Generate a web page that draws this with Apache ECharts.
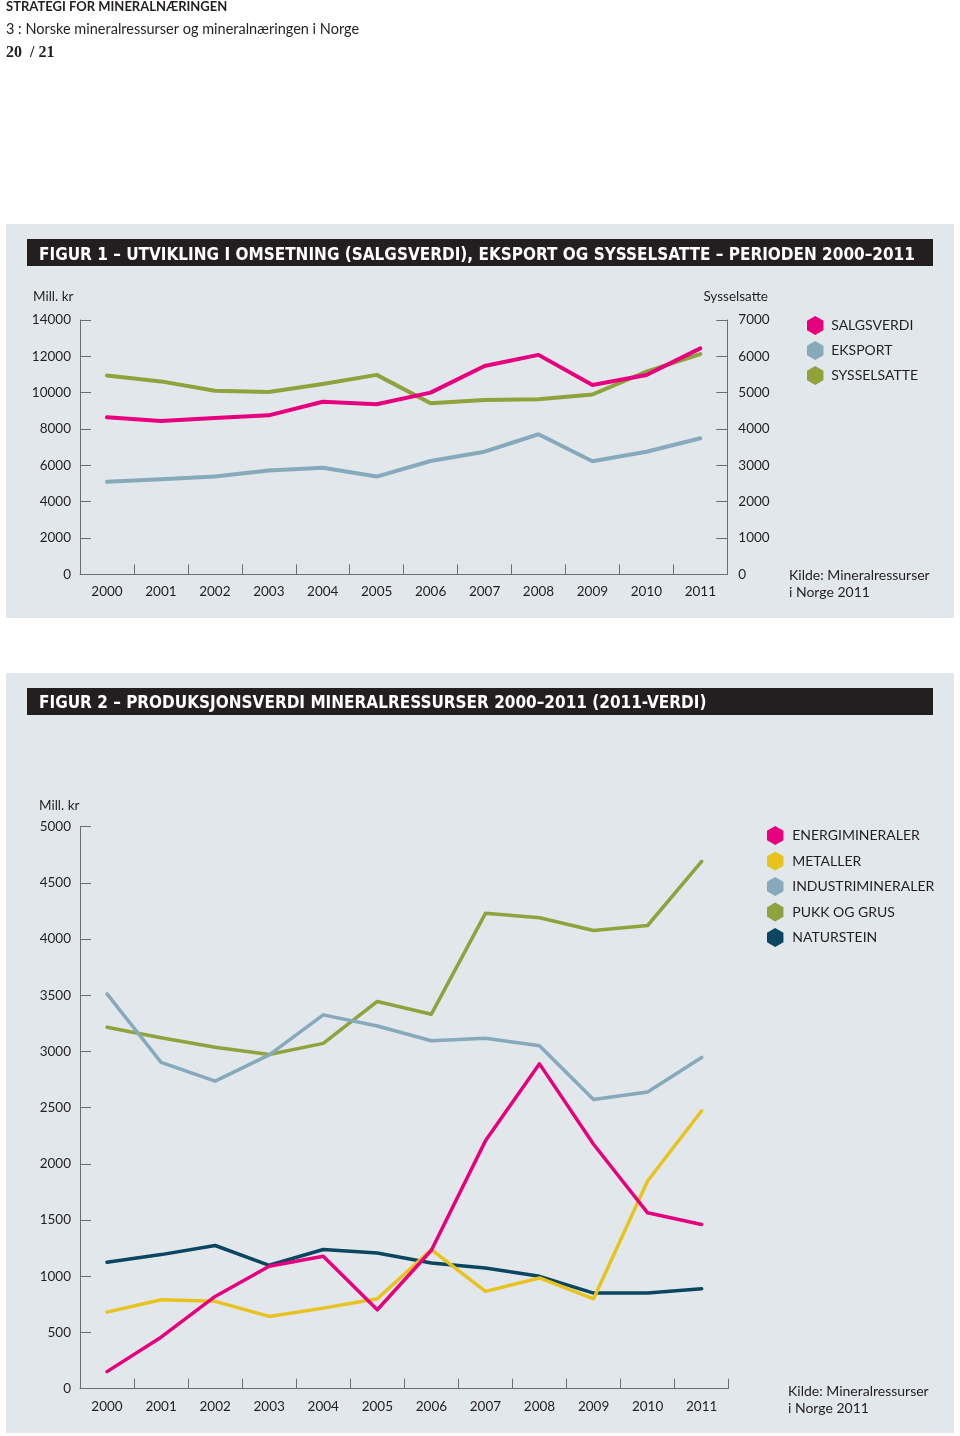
<!DOCTYPE html>
<html>
<head>
<meta charset="utf-8">
<script src="https://cdn.jsdelivr.net/npm/echarts@6/dist/echarts.min.js"></script>
<style>
html,body{margin:0;padding:0;background:#fff;}
#c{width:960px;height:1436px;}
</style>
</head>
<body>
<div id="c"></div>
<script>
// ---------- DATA ----------
const years = ['2000','2001','2002','2003','2004','2005','2006','2007','2008','2009','2010','2011'];

// Figur 1 (Mill. kr, left axis)
const salgsverdi = [8640, 8440, 8600, 8750, 9500, 9360, 10000, 11470, 12080, 10420, 10970, 12440];
const eksport    = [5100, 5230, 5380, 5710, 5870, 5380, 6240, 6750, 7710, 6220, 6750, 7490];
// Figur 1 (Sysselsatte, right axis)
const sysselsatte = [5470, 5310, 5050, 5020, 5240, 5490, 4710, 4800, 4820, 4950, 5580, 6060];

const fig1LeftTicks = {min: 0, max: 14000, interval: 2000};
const fig1RightTicks = {min: 0, max: 7000, interval: 1000};

// Figur 2 (Mill. kr)
const energimineraler   = [152, 458, 821, 1089, 1178, 702, 1232, 2205, 2890, 2175, 1565, 1461];
const metaller          = [681, 792, 777, 643, 717, 800, 1238, 866, 985, 800, 1848, 2473];
const industrimineraler = [3513, 2903, 2736, 2970, 3326, 3227, 3096, 3117, 3052, 2572, 2640, 2947];
const pukkOgGrus        = [3215, 3123, 3037, 2974, 3072, 3445, 3332, 4229, 4190, 4077, 4121, 4691];
const naturstein        = [1125, 1193, 1274, 1098, 1238, 1208, 1119, 1074, 1000, 851, 851, 890];

const fig2Ticks = {min: 0, max: 5000, interval: 500};

// ---------- STYLE ----------
const C = {
  pink: '#e6007e', blue: '#86aabb', green: '#8fa23c', yellow: '#e8c31e', dark: '#0a4660',
  panel: '#e1e7ea', bar: '#231f20', axis: '#6d6e70', text: '#231f20'
};
const FONT = 'Lato, "Open Sans", sans-serif';
const NARROW = '"Liberation Sans Narrow", "DejaVu Sans Condensed", sans-serif';
const HEX = 'path://M50,0 L93.3,25 L93.3,75 L50,100 L6.7,75 L6.7,25 Z';

const chart = echarts.init(document.getElementById('c'), null, {renderer: 'canvas'});

function yAxisBase(gi, t, pos, margin) {
  return {
    type: 'value', gridIndex: gi, position: pos,
    min: t.min, max: t.max, interval: t.interval,
    splitLine: {show: false},
    axisLine: {show: true, lineStyle: {color: C.axis, width: 1}},
    axisTick: {show: true, inside: true, length: 11, lineStyle: {color: C.axis, width: 1}},
    axisLabel: {color: C.text, fontFamily: FONT, fontSize: 13.5, margin: margin,
                formatter: function (v) { return String(v); }}
  };
}
function xAxisBase(gi, margin) {
  return {
    type: 'category', gridIndex: gi, data: years, boundaryGap: true,
    axisLine: {show: true, lineStyle: {color: C.axis, width: 1}},
    axisTick: {show: true, inside: true, length: 10, alignWithLabel: false, lineStyle: {color: C.axis, width: 1}},
    axisLabel: {color: C.text, fontFamily: FONT, fontSize: 13.5, margin: margin},
    splitLine: {show: false}
  };
}
function line(name, data, color, xi, yi, w) {
  return {
    name: name, type: 'line', data: data, xAxisIndex: xi, yAxisIndex: yi,
    symbol: 'none', smooth: false, animation: false,
    lineStyle: {color: color, width: w, cap: 'round', join: 'round'},
    itemStyle: {color: color}
  };
}
function txt(x, y, s, opt) {
  return Object.assign({
    type: 'text', x: x, y: y, z: 10,
    style: Object.assign({text: s, fill: C.text, font: '14px ' + FONT, textVerticalAlign: 'middle'}, opt || {})
  });
}

const option = {
  animation: false,
  backgroundColor: '#ffffff',
  grid: [
    {left: 80, top: 320, width: 647.3, height: 254.3, containLabel: false},
    {left: 80, top: 826.7, width: 648.7, height: 562, containLabel: false}
  ],
  xAxis: [xAxisBase(0, 10), xAxisBase(1, 11)],
  yAxis: [
    yAxisBase(0, fig1LeftTicks, 'left', 9),
    yAxisBase(0, fig1RightTicks, 'right', 11),
    yAxisBase(1, fig2Ticks, 'left', 9)
  ],
  legend: [
    {
      orient: 'vertical', left: 802, top: 311, itemWidth: 18, itemHeight: 19, itemGap: 6,
      icon: HEX, data: ['SALGSVERDI', 'EKSPORT', 'SYSSELSATTE'],
      textStyle: {color: C.text, fontFamily: FONT, fontSize: 14, padding: [0, 0, 0, 2]},
      selectedMode: false
    },
    {
      orient: 'vertical', left: 762, top: 821, itemWidth: 18, itemHeight: 19, itemGap: 6.5,
      icon: HEX, data: ['ENERGIMINERALER', 'METALLER', 'INDUSTRIMINERALER', 'PUKK OG GRUS', 'NATURSTEIN'],
      textStyle: {color: C.text, fontFamily: FONT, fontSize: 14, padding: [0, 0, 0, 3]},
      selectedMode: false
    }
  ],
  series: [
    line('SYSSELSATTE', sysselsatte, C.green, 0, 1, 4),
    line('EKSPORT', eksport, C.blue, 0, 0, 4),
    line('SALGSVERDI', salgsverdi, C.pink, 0, 0, 4),
    line('PUKK OG GRUS', pukkOgGrus, C.green, 1, 2, 3.5),
    line('INDUSTRIMINERALER', industrimineraler, C.blue, 1, 2, 3.5),
    line('NATURSTEIN', naturstein, C.dark, 1, 2, 3.5),
    line('METALLER', metaller, C.yellow, 1, 2, 3.5),
    line('ENERGIMINERALER', energimineraler, C.pink, 1, 2, 3.5)
  ],
  graphic: [
    // panels
    {type: 'rect', z: -10, shape: {x: 6, y: 224, width: 948, height: 394}, style: {fill: C.panel}},
    {type: 'rect', z: -10, shape: {x: 6, y: 673, width: 948, height: 760}, style: {fill: C.panel}},
    // title bars
    {type: 'rect', z: -5, shape: {x: 27, y: 239, width: 906, height: 27}, style: {fill: C.bar}},
    {type: 'rect', z: -5, shape: {x: 27, y: 688, width: 906, height: 27}, style: {fill: C.bar}},
    txt(39, 255.5, 'FIGUR 1 – UTVIKLING I OMSETNING (SALGSVERDI), EKSPORT OG SYSSELSATTE – PERIODEN 2000–2011',
        {fill: '#ffffff', font: 'bold 17px ' + NARROW}),
    txt(39, 704, 'FIGUR 2 – PRODUKSJONSVERDI MINERALRESSURSER 2000–2011 (2011-VERDI)',
        {fill: '#ffffff', font: 'bold 17px ' + NARROW}),
    // header
    txt(6, 7, 'STRATEGI FOR MINERALNÆRINGEN', {font: 'bold 13px ' + FONT}),
    txt(6, 29, '3 : Norske mineralressurser og mineralnæringen i Norge', {font: '14.5px ' + FONT}),
    txt(6, 53, '20  / 21', {font: 'bold 16px "Liberation Serif", serif'}),
    // axis titles
    txt(33, 297, 'Mill. kr', {font: '13.5px ' + FONT}),
    txt(768, 297, 'Sysselsatte', {font: '13.5px ' + FONT, textAlign: 'right'}),
    txt(39, 806, 'Mill. kr', {font: '13.5px ' + FONT}),
    // sources
    txt(789, 575, 'Kilde: Mineralressurser', {font: '14px ' + FONT}),
    txt(789, 592, 'i Norge 2011', {font: '14px ' + FONT}),
    txt(788, 1391, 'Kilde: Mineralressurser', {font: '14px ' + FONT}),
    txt(788, 1408, 'i Norge 2011', {font: '14px ' + FONT})
  ]
};
chart.setOption(option);
</script>
</body>
</html>
